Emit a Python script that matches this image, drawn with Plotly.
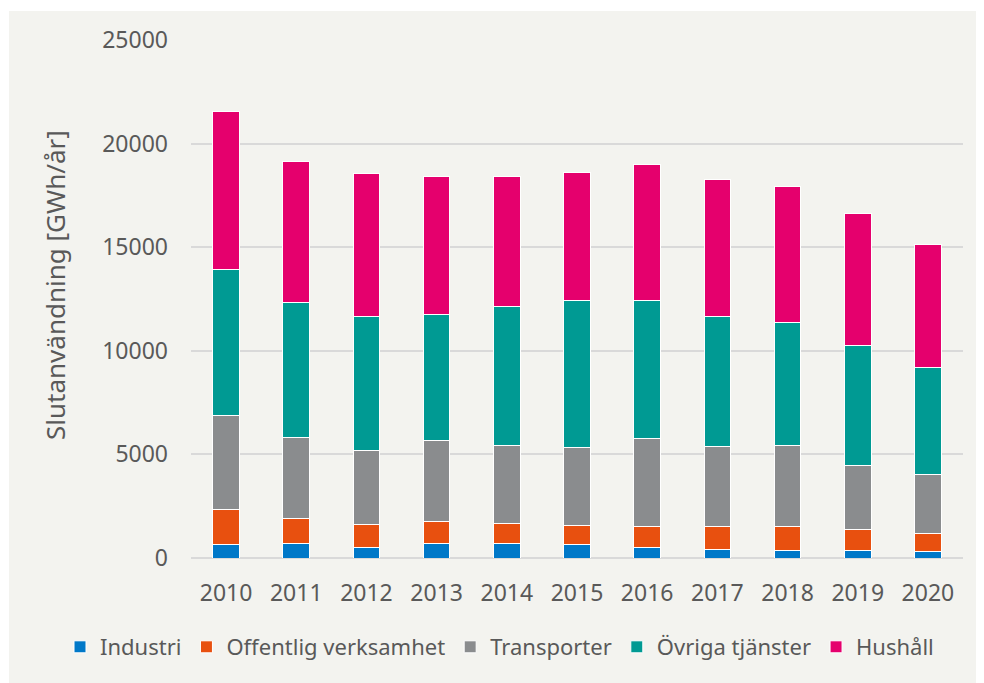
import plotly.graph_objects as go

# final energy use per sector, GWh/year
years = ['2010', '2011', '2012', '2013', '2014', '2015', '2016', '2017', '2018', '2019', '2020']
industri = [658, 691, 498, 723, 691, 642, 530, 418, 369, 369, 321]
offentlig = [1671, 1220, 1108, 1060, 979, 932, 980, 1124, 1173, 996, 851]
transporter = [4545, 3903, 3597, 3902, 3758, 3774, 4256, 3838, 3902, 3084, 2843]
ovriga = [7050, 6504, 6441, 6071, 6697, 7066, 6681, 6280, 5926, 5813, 5171]
hushall = [7629, 6826, 6921, 6665, 6280, 6200, 6536, 6616, 6537, 6360, 5926]

series = [
    ('Industri', industri, '#0078c8'),
    ('Offentlig verksamhet', offentlig, '#e8500f'),
    ('Transporter', transporter, '#8a8c8e'),
    ('Övriga tjänster', ovriga, '#009a93'),
    ('Hushåll', hushall, '#e5006d'),
]

W, H = 984, 683
OFF = 8  # page body margin, the figure lands 8px right and down
# plot area in page pixels: left 191, right 963, top 40, bottom 558
L, R, T, B = 191 - OFF, W - (963 - OFF), 40 - OFF, H - (558 - OFF)
bg = '#f3f3ef'
txt = '#595959'
font = 'Noto Sans'

# page pixel -> paper coords, for the panel border, legend and axis title
pw, ph = W - L - R, H - T - B
def px(x):
    return (x - OFF - L) / pw
def py(y):
    return (H - B - (y - OFF)) / ph

fig = go.Figure()
for name, vals, col in series:
    fig.add_trace(go.Bar(x=years, y=vals, name=name,
                         marker=dict(color=col, line=dict(color='white', width=1))))

fig.update_layout(
    barmode='stack', bargap=0.62,
    width=W, height=H,
    margin=dict(l=L, r=R, t=T, b=B, autoexpand=False),
    paper_bgcolor=bg, plot_bgcolor=bg,
    font=dict(family=font, size=23, color=txt),
    showlegend=True,
    # x left of the plot area so the legend may use the left margin and stays on one row
    legend=dict(orientation='h', x=px(60), xanchor='left', y=py(626), yanchor='top',
                font=dict(size=22, color=txt), traceorder='normal'),
)
fig.update_yaxes(range=[0, 25000], dtick=5000, tickformat='d', showgrid=True,
                 gridcolor='#d9d9d9', gridwidth=1.6,
                 zeroline=True, zerolinecolor='#d9d9d9', zerolinewidth=1.6,
                 showline=False, ticklabelstandoff=22, tickfont=dict(size=23, color=txt))
fig.update_xaxes(showgrid=False, showline=False, ticklabelstandoff=19, tickfont=dict(size=23, color=txt))

fig.add_annotation(text='Slutanvändning [GWh/år]', textangle=-90, showarrow=False,
                   xref='paper', yref='paper', x=px(55), y=py(285),
                   xanchor='center', yanchor='middle', font=dict(size=26, color=txt))

# white strip at top and left, the panel sits slightly inset
fig.add_shape(type='rect', xref='paper', yref='paper', x0=px(0), x1=px(W + 10), y0=py(11), y1=py(-2),
              fillcolor='white', line=dict(width=0), layer='below')
fig.add_shape(type='rect', xref='paper', yref='paper', x0=px(-2), x1=px(9), y0=py(H + 10), y1=py(0),
              fillcolor='white', line=dict(width=0), layer='below')

fig.write_html('out.html')
